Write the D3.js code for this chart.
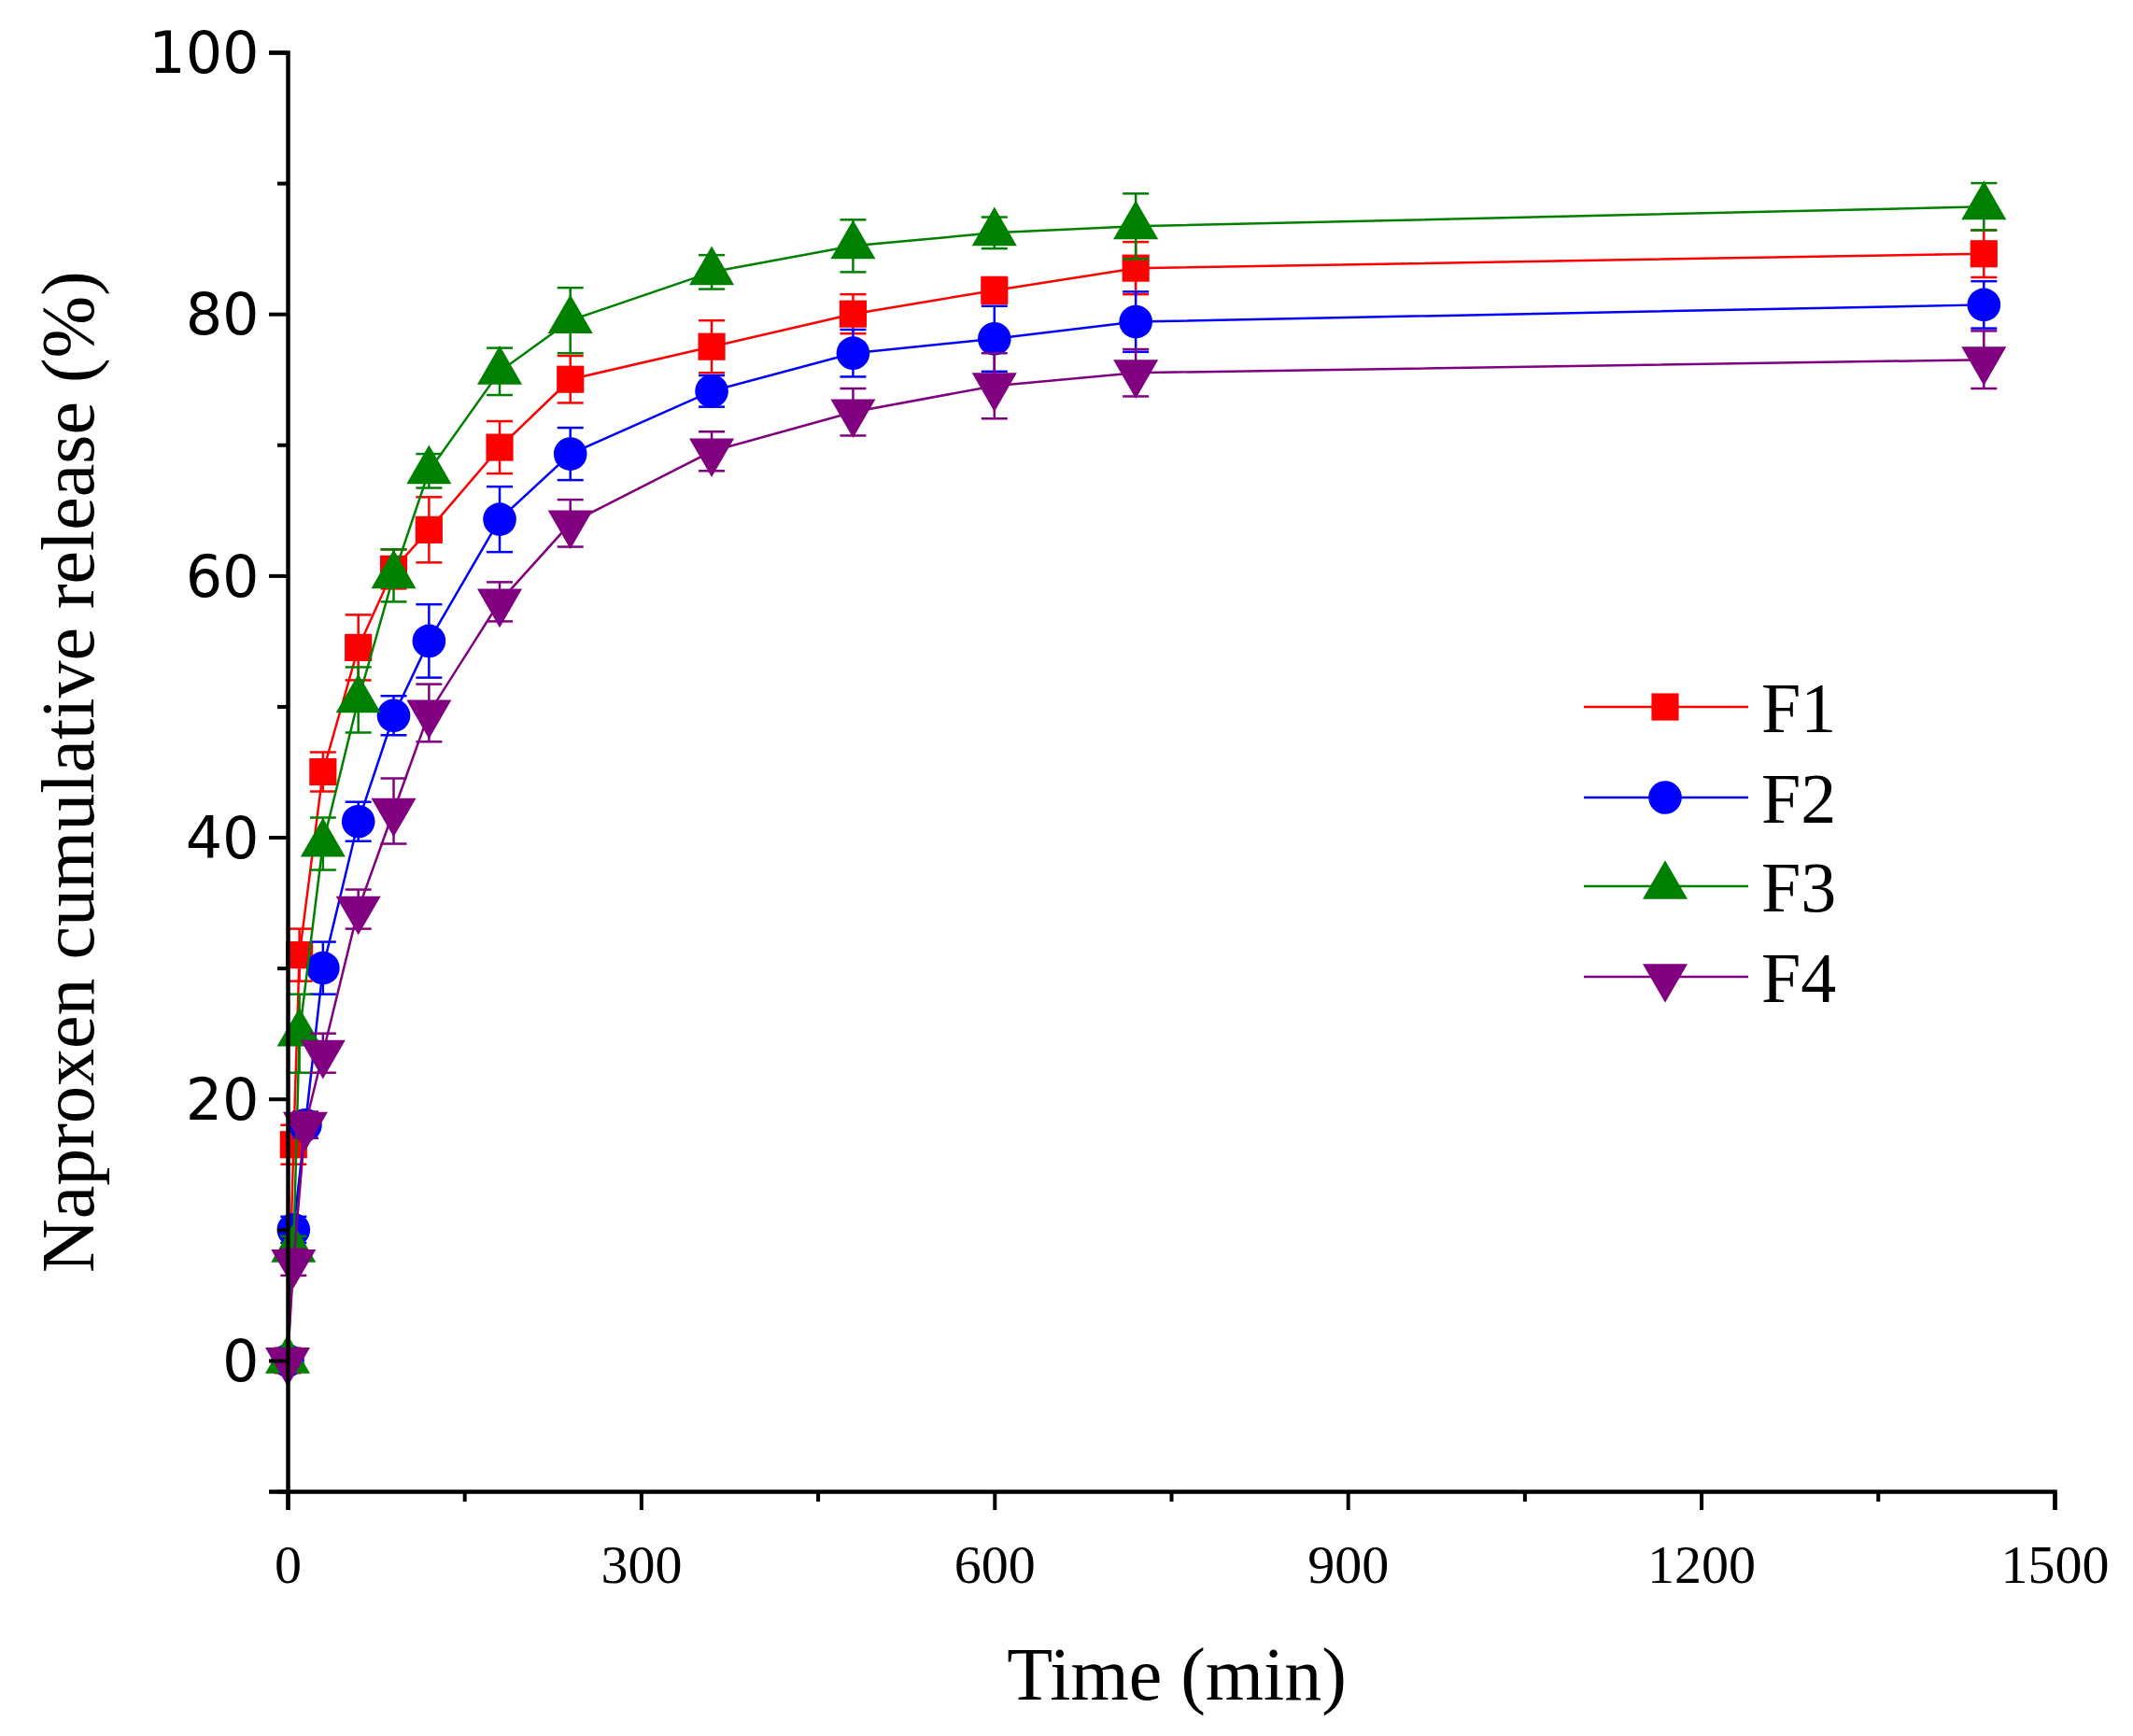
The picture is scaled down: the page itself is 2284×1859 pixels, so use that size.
<!DOCTYPE html>
<html><head><meta charset="utf-8">
<script src="https://cdn.jsdelivr.net/npm/d3@7"></script>
<style>body{margin:0;background:#fff}</style></head>
<body><div id="chart"></div>
<script>
// release data (time in min, release in %)
var timesA = [0, 5, 10, 30, 60, 90, 120, 180, 240, 360, 480, 600, 720, 1440];
var timesB = [0, 5, 15, 30, 60, 90, 120, 180, 240, 360, 480, 600, 720, 1440];
var f1 = [0, 16.5, 31, 45, 54.5, 60.5, 63.5, 69.8, 75, 77.5, 80, 81.8, 83.5, 84.6];
var f2 = [0, 10, 18, 30, 41.2, 49.3, 55, 64.3, 69.3, 74.1, 77, 78.1, 79.4, 80.7];
var f3 = [0, 8.5, 25, 39.5, 50.5, 60, 68, 75.6, 79.5, 83.2, 85.2, 86.2, 86.7, 88.2];
var f4 = [0, 7.5, 18, 23.5, 34.5, 42, 49.5, 58, 64, 69.5, 72.5, 74.5, 75.5, 76.5];
var err1 = [0, 1.5, 2, 1.5, 2.5, 1.5, 2.5, 2, 1.8, 2, 1.5, 1, 2, 1.8];
var err2 = [0, 1, 1, 2, 1.5, 1.5, 2.8, 2.5, 2, 1.2, 1.8, 2.5, 2.3, 1.8];
var err3 = [0, 1, 3, 2, 2.5, 2, 1.3, 1.8, 2.5, 1.3, 2, 1.2, 2.5, 1.8];
var err4 = [0, 1, 1, 1.5, 1.5, 2.5, 2.2, 1.5, 1.8, 1.5, 1.8, 2.5, 1.8, 2.2];
var xTicks = [0, 300, 600, 900, 1200, 1500];
var yTicks = [0, 20, 40, 60, 80, 100];

var series = [
    {name: 'F1', t: timesA, v: f1, e: err1, color: '#ff0000', sym: d3.symbolSquare},
    {name: 'F2', t: timesB, v: f2, e: err2, color: '#0000ff', sym: d3.symbolCircle},
    {name: 'F3', t: timesA, v: f3, e: err3, color: '#008000', sym: d3.symbolTriangle},
    {name: 'F4', t: timesB, v: f4, e: err4, color: '#800080', sym: 'down'}
];

var W = 2284, H = 1859;
var svg = d3.select('#chart').append('svg').attr('width', W).attr('height', H);
var x = d3.scaleLinear().domain([0, 1500]).range([308, 2200]);
var y = d3.scaleLinear().domain([-10, 100]).range([1597, 56]);

function marker(s, size) {
    if (s.sym === 'down') return d3.symbol().type(d3.symbolTriangle).size(size)();
    return d3.symbol().type(s.sym).size(s.sym === d3.symbolSquare ? size * 0.85 : size)();
}

var line = d3.line().x(function (d) { return x(d[0]); }).y(function (d) { return y(d[1]); });
series.forEach(function (s) {
    var pts = s.t.map(function (t, i) { return [t, s.v[i], s.e[i]]; });
    var g = svg.append('g');
    g.append('path').attr('d', line(pts)).attr('fill', 'none')
        .attr('stroke', s.color).attr('stroke-width', 2.5);
    pts.forEach(function (p) {
        if (!p[2]) return;
        var cx = x(p[0]), lo = y(p[1] - p[2]), hi = y(p[1] + p[2]);
        g.append('line').attr('x1', cx).attr('x2', cx).attr('y1', lo).attr('y2', hi)
            .attr('stroke', s.color).attr('stroke-width', 2.5);
        [lo, hi].forEach(function (yy) {
            g.append('line').attr('x1', cx - 14).attr('x2', cx + 14).attr('y1', yy).attr('y2', yy)
                .attr('stroke', s.color).attr('stroke-width', 2.5);
        });
    });
    g.selectAll('path.m').data(pts).enter().append('path').attr('class', 'm')
        .attr('d', marker(s, 1000))
        .attr('transform', function (d) {
            return 'translate(' + x(d[0]) + ',' + y(d[1]) + ')' + (s.sym === 'down' ? ' rotate(180)' : '');
        })
        .attr('fill', s.color);
});

// axes
var xAxis = svg.append('g').attr('transform', 'translate(0,' + y(-10) + ')')
    .call(d3.axisBottom(x).tickValues(xTicks).tickSize(20).tickFormat(d3.format('d')));
var xMinor = svg.append('g').attr('transform', 'translate(0,' + y(-10) + ')')
    .call(d3.axisBottom(x).tickValues(d3.range(150, 1500, 300)).tickSize(11).tickFormat(''));
var yAxis = svg.append('g').attr('transform', 'translate(' + x(0) + ',0)')
    .call(d3.axisLeft(y).tickValues(yTicks).tickSize(20));
var yMinor = svg.append('g').attr('transform', 'translate(' + x(0) + ',0)')
    .call(d3.axisLeft(y).tickValues(d3.range(-10, 100, 20)).tickSize(11).tickFormat(''));
[xAxis, xMinor, yAxis, yMinor].forEach(function (a) {
    a.select('.domain').attr('stroke-width', 4.5);
    a.selectAll('.tick line').attr('stroke-width', 4);
});
xMinor.select('.domain').remove();
yMinor.select('.domain').remove();
xAxis.selectAll('text').attr('font-family', 'Liberation Serif').attr('font-size', 58).attr('dy', '1.3em');
yAxis.selectAll('text').attr('font-family', 'DejaVu Sans').attr('font-size', 62).attr('dy', '0.35em').attr('dx', '-0.12em');

svg.append('text').attr('x', 1260).attr('y', 1820).attr('text-anchor', 'middle')
    .attr('font-family', 'Liberation Serif').attr('font-size', 80).text('Time (min)');
svg.append('text').attr('transform', 'translate(100,' + y(45) + ') rotate(-90)')
    .attr('text-anchor', 'middle').attr('font-family', 'Liberation Serif').attr('font-size', 80)
    .text('Naproxen cumulative release (%)');

// legend
var legY = [757, 854, 949, 1046];
series.forEach(function (s, i) {
    var g = svg.append('g');
    g.append('line').attr('x1', 1696).attr('x2', 1872).attr('y1', legY[i]).attr('y2', legY[i])
        .attr('stroke', s.color).attr('stroke-width', 2.5);
    g.append('path').attr('d', marker(s, 1000))
        .attr('transform', 'translate(1783,' + legY[i] + ')' + (s.sym === 'down' ? ' rotate(180)' : ''))
        .attr('fill', s.color);
    g.append('text').attr('x', 1886).attr('y', legY[i]).attr('dy', '0.35em')
        .attr('font-family', 'Liberation Serif').attr('font-size', 76).text(s.name);
});
</script></body></html>
